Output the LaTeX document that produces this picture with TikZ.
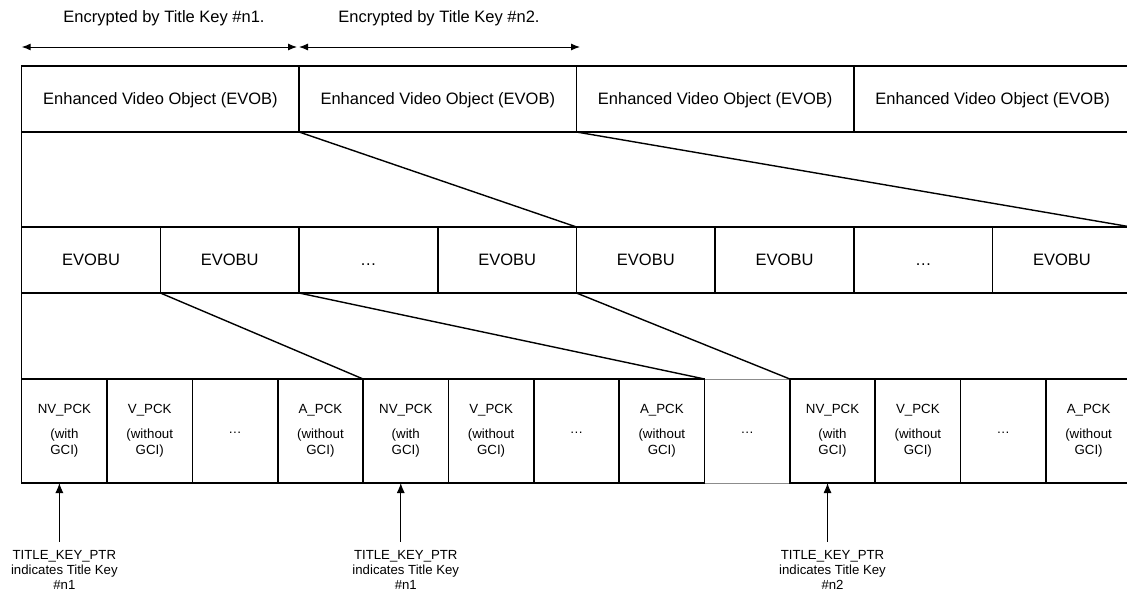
\documentclass[tikz,border=0pt]{standalone}
\usepackage{fontspec}
\setmainfont{Liberation Sans}
\usetikzlibrary{arrows.meta}
% pack labels (name, blank line, qualifier)
\newcommand\pknv{NV\_PCK\\[8.6pt](with\\GCI)}
\newcommand\pkv{V\_PCK\\[8.6pt](without\\GCI)}
\newcommand\pka{A\_PCK\\[8.6pt](without\\GCI)}
\newcommand\pkdots{\raisebox{-2pt}[0pt][0pt]{…}}
\begin{document}
\begin{tikzpicture}[x=1pt,y=-1pt,
  cellbase/.style={draw, line width=1.5pt, inner sep=0pt, outer sep=0pt},
  evobbox/.style={cellbase, minimum width=277.4pt, minimum height=66pt,
    font=\fontsize{16.5}{19}\selectfont, text height=11.8pt, text depth=0pt},
  evobubox/.style={cellbase, minimum width=138.7pt, minimum height=66pt,
    font=\fontsize{16.5}{19}\selectfont, text height=11.8pt, text depth=0pt},
  packbox/.style={cellbase, minimum width=85.35pt, minimum height=104pt,
    font=\fontsize{13.3}{16}\selectfont, align=center},
  gapbox/.style={packbox, line width=0.6pt, draw=black!45},
  link/.style={line width=1.4pt},
  span/.style={line width=1pt, {Latex[length=9pt,width=7pt]}-{Latex[length=9pt,width=7pt]}},
  ptr/.style={line width=1pt, -{Latex[length=10pt,width=8pt]}},
  head/.style={font=\fontsize{16.5}{19}\selectfont, anchor=base, inner sep=0pt},
  note/.style={font=\fontsize{13.2}{15}\selectfont, align=center, anchor=north, inner sep=0pt}]

\useasboundingbox (0,0) rectangle (1127,595);

% encryption ranges
\node[head] (enc1) at (164,22.7) {Encrypted by Title Key \#n1.};
\node[head] (enc2) at (439,22.7) {Encrypted by Title Key \#n2.};
\coordinate (s1l) at (21.7,47);
\coordinate (s1r) at (297,47);
\coordinate (s2l) at (299,47);
\coordinate (s2r) at (580,47);
\draw[span] (s1l) -- (s1r);
\draw[span] (s2l) -- (s2r);

% EVOB row
\foreach \i in {0,...,3}
  \node[evobbox] (evob\i) at ({21.7+277.4*(\i+0.5)},99) {Enhanced Video Object (EVOB)};

% EVOBU row
\foreach \i/\t in {0/EVOBU,1/EVOBU,2/…,3/EVOBU,4/EVOBU,5/EVOBU,6/…,7/EVOBU}
  \node[evobubox] (evobu\i) at ({21.7+138.7*(\i+0.5)},260) {\t};

% pack row: the unlabelled gap first, so its thin sides sit under the neighbours
\node[gapbox] (pack8) at ({21.7+85.35*8.5},431) {\pkdots};
\foreach \i/\t in {0/\pknv,1/\pkv,2/\pkdots,3/\pka,4/\pknv,5/\pkv,6/\pkdots,7/\pka,
                   9/\pknv,10/\pkv,11/\pkdots,12/\pka}
  \node[packbox] (pack\i) at ({21.7+85.35*(\i+0.5)},431) {\t};

% left frame edge
\draw[line width=1.5pt] (evob0.north west) -- (pack0.south west);

% expansion lines
\draw[link] (evob0.south east) -- (evobu3.north east);
\draw[link] (evob1.south east) -- (evobu7.north east);
\draw[link] (evobu0.south east) -- (pack3.north east);
\draw[link] (evobu1.south east) -- (pack7.north east);
\draw[link] (evobu3.south east) -- (pack8.north east);

% title key pointers
\foreach \c/\k/\kn in {0/1/1,4/2/1,9/3/2} {
  \node[note] (key\k) at ([yshift=-67pt]pack\c.south)
    {TITLE\_KEY\_PTR\\indicates Title Key\\\#n\kn};
  \coordinate (tail\k) at ([xshift=-5pt,yshift=8.3pt]key\k.north);
  \draw[ptr] (tail\k) -- (tail\k |- pack\c.south);
}
\end{tikzpicture}
\end{document}
